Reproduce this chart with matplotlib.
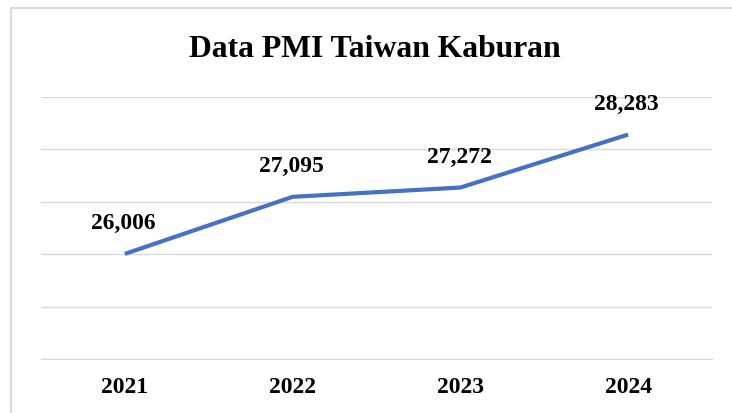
import matplotlib.pyplot as plt
from matplotlib.patches import Rectangle

years = ["2021", "2022", "2023", "2024"]
pmi = [26.006, 27.095, 27.272, 28.283]

plt.rcParams["font.family"] = ["Liberation Serif", "DejaVu Serif"]

fig = plt.figure(figsize=(7.32, 4.13), dpi=100)
ax = fig.add_axes([41 / 732, 1 - 359 / 413, 671 / 732, 262 / 413])

x = list(range(len(years)))
ax.plot(x, pmi, color="#4472C4", linewidth=3, solid_capstyle="butt", zorder=3)
for xi, v in zip(x, pmi):
    ax.annotate(f"{v:.3f}".replace(".", ","), (xi, v), xytext=(-1, 18),
                textcoords="offset points", ha="center", va="baseline",
                fontsize=17, fontweight="bold")

ax.set_xlim(-0.5, 3.5)
ax.set_ylim(24, 29)
ax.set_yticks([24, 25, 26, 27, 28, 29])
ax.yaxis.grid(True, color="#d9d9d9", linewidth=1)
ax.set_axisbelow(True)
ax.set_xticks(x)
ax.set_xticklabels(years, fontsize=17, fontweight="bold")
ax.tick_params(axis="x", length=0, pad=13)
ax.tick_params(axis="y", length=0, labelleft=False)
for s in ["top", "right", "left"]:
    ax.spines[s].set_visible(False)
ax.spines["bottom"].set_color("#d9d9d9")

fig.text(0.512, 1 - 57 / 413, "Data PMI Taiwan Kaburan", ha="center", va="baseline",
         fontsize=22.8, fontweight="bold")

fig.patches.append(Rectangle((10.5 / 732, -0.1), 1.2, 1 - 7.5 / 413 + 0.1,
                             transform=fig.transFigure, fill=False,
                             edgecolor="#d9d9d9", linewidth=1.5))

fig.savefig("out.png", dpi=100)
